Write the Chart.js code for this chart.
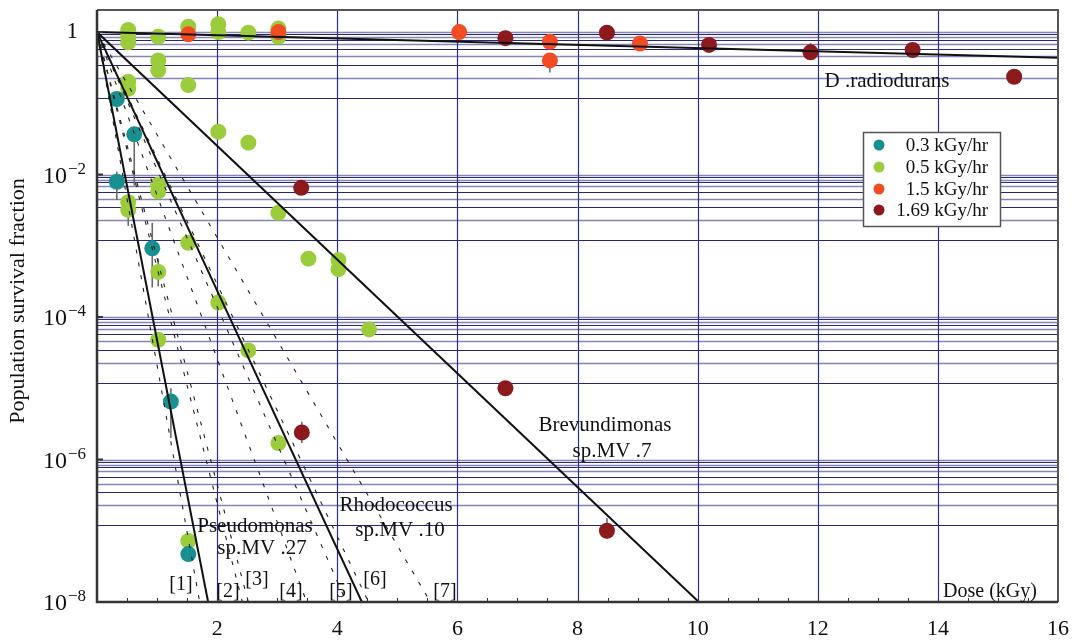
<!DOCTYPE html>
<html><head><meta charset="utf-8">
<script src="https://cdn.jsdelivr.net/npm/chart.js@4/dist/chart.umd.min.js"></script>
<style>html,body{margin:0;padding:0;background:#fff;}</style>
</head><body>
<canvas id="c" width="1072" height="641"></canvas>
<script>
// ---------- data ----------
const seriesNames = ['0.3 kGy/hr', '0.5 kGy/hr', '1.5 kGy/hr', '1.69 kGy/hr'];

const dose03 = [0.33, 0.62, 0.33, 0.92, 1.23, 1.52];
const surv03 = [0.115, 0.0367, 0.0079, 9.2e-4, 6.5e-6, 4.7e-8];

const dose05 = [0.52, 0.52, 0.52, 1.02, 1.52, 2.02, 2.02, 2.52, 3.02, 3.02,
                1.02, 1.02, 0.52, 0.52, 1.52, 2.02, 2.52, 1.02, 1.02, 0.52, 0.52,
                3.02, 1.52, 3.52, 1.02, 2.02, 4.02, 4.02, 4.53, 1.02, 2.52, 3.02, 1.52];
const surv05 = [1.07, 0.86, 0.72, 0.86, 1.19, 1.29, 1.0, 0.98, 1.12, 0.86,
                0.40, 0.29, 0.20, 0.16, 0.18, 0.040, 0.028, 0.0072, 0.0058, 0.0041, 0.0032,
                0.0029, 0.0011, 6.6e-4, 4.3e-4, 1.6e-4, 6.3e-4, 4.7e-4, 6.7e-5, 4.8e-5, 3.4e-5, 1.7e-6, 7.2e-8];

const dose15 = [1.52, 3.02, 6.03, 7.54, 7.54, 9.04];
const surv15 = [0.93, 1.0, 1.0, 0.73, 0.40, 0.69];

const dose169 = [6.8, 8.49, 10.19, 11.88, 13.58, 15.27, 3.4, 6.8, 3.41, 8.49];
const surv169 = [0.82, 0.98, 0.66, 0.52, 0.56, 0.236, 0.0065, 1.0e-5, 2.4e-6, 1.0e-7];

// error bars: dose, lower, upper
const errDose = [0.62, 0.33, 0.92, 1.02, 1.23, 0.52, 7.54, 3.41, 8.49, 6.8, 11.88, 2.52];
const errLow  = [0.007, 0.0044, 2.6e-4, 2.7e-4, 2.0e-6, 1.9e-3, 0.27, 1.7e-6, 7.8e-8, 0.66, 0.52, 0.80];
const errHigh = [0.045, 0.011, 2.1e-3, 6.6e-4, 1.0e-5, 0.0032, 0.40, 3.4e-6, 1.5e-7, 0.82, 0.70, 0.98];

// fitted survival lines from (0,1)
const fitNames = ['Pseudomonas', 'Rhodococcus', 'Brevundimonas', 'D.radiodurans'];
const fitEndDose = [1.85, 4.41, 10.02, 16];
const fitEndSurv = [1e-8, 1e-8, 1e-8, 0.436];

// dashed reference lines [1]..[7] reaching 1e-8
const refEndDose = [1.71, 2.42, 2.52, 3.49, 4.15, 4.52, 5.55];

// axes
const xTickLabels = [2, 4, 6, 8, 10, 12, 14, 16];
const xGridValues = [2, 4, 6, 8, 10, 12, 14];
const yTickExps = [0, -2, -4, -6, -8];
const yGridDecades = [0, -2, -4, -6];
const yGridFactors = [1, 0.93, 0.85, 0.78, 0.69, 0.57, 0.46, 0.35, 0.23, 0.12];

// ---------- styling ----------
const colors = ['#17908f', '#9bcc3b', '#f24d22', '#8c1a1d'];
const SERIF = '"Liberation Serif", "DejaVu Serif", serif';

const texts = [
  {t: 'Pseudomonas', x: 255, y: 526, s: 21},
  {t: 'sp.MV .27', x: 262, y: 548, s: 21},
  {t: 'Rhodococcus', x: 396, y: 505, s: 21},
  {t: 'sp.MV .10', x: 400, y: 530, s: 21},
  {t: 'Brevundimonas', x: 605, y: 425, s: 21},
  {t: 'sp.MV .7', x: 612, y: 451, s: 21},
  {t: 'D .radiodurans', x: 887, y: 81, s: 21},
  {t: 'Dose (kGy)', x: 990, y: 592, s: 20},
  {t: '[1]', x: 181, y: 585, s: 20},
  {t: '[2]', x: 228, y: 592, s: 20},
  {t: '[3]', x: 257, y: 580, s: 20},
  {t: '[4]', x: 291, y: 592, s: 20},
  {t: '[5]', x: 341, y: 592, s: 20},
  {t: '[6]', x: 375, y: 580, s: 20},
  {t: '[7]', x: 445, y: 592, s: 20}
];

function pts(xs, ys) { return xs.map((x, i) => ({x: x, y: ys[i]})); }

const datasets = [];
fitEndDose.forEach((d, i) => {
  datasets.push({label: fitNames[i], data: [{x: 0, y: 1}, {x: d, y: fitEndSurv[i]}],
    showLine: true, borderColor: '#111', borderWidth: 2, pointRadius: 0, fill: false});
});
refEndDose.forEach((d, i) => {
  datasets.push({label: '[' + (i + 1) + ']', data: [{x: 0, y: 1}, {x: d, y: 1e-8}],
    showLine: true, borderColor: '#222', borderWidth: 1.1, borderDash: [4, 9], pointRadius: 0, fill: false});
});
const pointSets = [[dose169, surv169, 3], [dose15, surv15, 2], [dose03, surv03, 0], [dose05, surv05, 1]];
pointSets.forEach(([xs, ys, ci]) => {
  datasets.push({label: seriesNames[ci], data: pts(xs, ys), showLine: false,
    pointRadius: 8, pointBackgroundColor: colors[ci], pointBorderWidth: 0, pointBorderColor: colors[ci]});
});

const decor = {
  id: 'decor',
  beforeDatasetsDraw(chart) {
    const ctx = chart.ctx, a = chart.chartArea, xs = chart.scales.x, ys = chart.scales.y;
    ctx.save();
    ctx.beginPath(); ctx.rect(a.left, a.top, a.right - a.left, a.bottom - a.top); ctx.clip();
    yGridDecades.forEach(e => {
      yGridFactors.forEach((f, i) => {
        const y = Math.round(ys.getPixelForValue(f * Math.pow(10, e))) + 0.5;
        ctx.beginPath();
        ctx.strokeStyle = i % 2 === 0 ? '#8585b8' : '#26267c';
        ctx.lineWidth = i % 2 === 0 ? 1.6 : 1;
        ctx.moveTo(a.left, y); ctx.lineTo(a.right, y); ctx.stroke();
      });
    });
    xGridValues.forEach(v => {
      const x = Math.round(xs.getPixelForValue(v)) + 0.5;
      ctx.beginPath(); ctx.strokeStyle = '#2e2e82'; ctx.lineWidth = 1.2;
      ctx.moveTo(x, a.top); ctx.lineTo(x, a.bottom); ctx.stroke();
    });
    ctx.strokeStyle = '#6a6a6a'; ctx.lineWidth = 1.6;
    errDose.forEach((d, i) => {
      const x = xs.getPixelForValue(d);
      ctx.beginPath();
      ctx.moveTo(x, ys.getPixelForValue(errLow[i]));
      ctx.lineTo(x, ys.getPixelForValue(errHigh[i]));
      ctx.stroke();
    });
    ctx.restore();
  },
  afterDraw(chart) {
    const ctx = chart.ctx, a = chart.chartArea, xs = chart.scales.x, ys = chart.scales.y;
    ctx.save();
    ctx.strokeStyle = '#555'; ctx.lineWidth = 2;
    ctx.beginPath(); ctx.moveTo(a.left, a.top); ctx.lineTo(a.right, a.top); ctx.lineTo(a.right, a.bottom); ctx.stroke();
    ctx.strokeStyle = '#333'; ctx.lineWidth = 2.5;
    ctx.beginPath(); ctx.moveTo(a.left, a.top); ctx.lineTo(a.left, a.bottom); ctx.lineTo(a.right, a.bottom); ctx.stroke();
    ctx.lineWidth = 1; ctx.strokeStyle = '#333';
    for (let v = 0.5; v < 16; v += 0.5) {
      const x = Math.round(xs.getPixelForValue(v)) + 0.5;
      ctx.beginPath(); ctx.moveTo(x, a.bottom); ctx.lineTo(x, a.bottom - 4); ctx.stroke();
    }
    ctx.lineWidth = 2;
    yTickExps.forEach(e => {
      const y = ys.getPixelForValue(Math.pow(10, e));
      ctx.beginPath(); ctx.moveTo(a.left, y); ctx.lineTo(a.left + 6, y); ctx.stroke();
    });
    ctx.fillStyle = '#111'; ctx.font = '22px ' + SERIF; ctx.textAlign = 'center'; ctx.textBaseline = 'middle';
    xTickLabels.forEach(v => ctx.fillText(String(v), xs.getPixelForValue(v), 629));
    yTickExps.forEach(e => {
      const y = ys.getPixelForValue(Math.pow(10, e));
      if (e === 0) {
        ctx.font = '23px ' + SERIF; ctx.textAlign = 'right'; ctx.textBaseline = 'middle';
        ctx.fillText('1', 78, y);
      } else {
        ctx.font = '24px ' + SERIF; ctx.textAlign = 'right'; ctx.textBaseline = 'middle';
        ctx.fillText('10', 67, y + 2);
        ctx.font = '17px ' + SERIF; ctx.textAlign = 'left';
        ctx.fillText('\u2212' + String(-e), 68, y - 5);
      }
    });
    ctx.save();
    ctx.translate(18, 301); ctx.rotate(-Math.PI / 2);
    ctx.font = '22px ' + SERIF; ctx.textAlign = 'center'; ctx.textBaseline = 'middle';
    ctx.fillText('Population survival fraction', 0, 0);
    ctx.restore();
    texts.forEach(o => {
      ctx.font = o.s + 'px ' + SERIF; ctx.textAlign = 'center'; ctx.textBaseline = 'middle';
      ctx.fillText(o.t, o.x, o.y);
    });
    ctx.fillStyle = '#fff'; ctx.fillRect(863, 132, 137, 94);
    ctx.strokeStyle = '#555'; ctx.lineWidth = 1.5; ctx.strokeRect(863.5, 132.5, 137, 94);
    const rowsY = [145, 167, 189, 210];
    seriesNames.forEach((n, i) => {
      ctx.beginPath(); ctx.fillStyle = colors[i];
      ctx.arc(879, rowsY[i], 5.5, 0, Math.PI * 2); ctx.fill();
      ctx.fillStyle = '#111'; ctx.font = '19px ' + SERIF; ctx.textAlign = 'right'; ctx.textBaseline = 'middle';
      ctx.fillText(n, 988, rowsY[i] + 1);
    });
    ctx.restore();
  }
};

new Chart(document.getElementById('c'), {
  type: 'scatter',
  data: {datasets: datasets},
  options: {
    responsive: false, animation: false, events: [],
    layout: {padding: {left: 97, right: 14, top: 10, bottom: 39}},
    plugins: {legend: {display: false}, tooltip: {enabled: false}},
    scales: {
      x: {type: 'linear', min: 0, max: 16, display: false},
      y: {type: 'logarithmic', min: 1e-8, max: 2.04, display: false}
    }
  },
  plugins: [decor]
});
</script>
</body></html>
